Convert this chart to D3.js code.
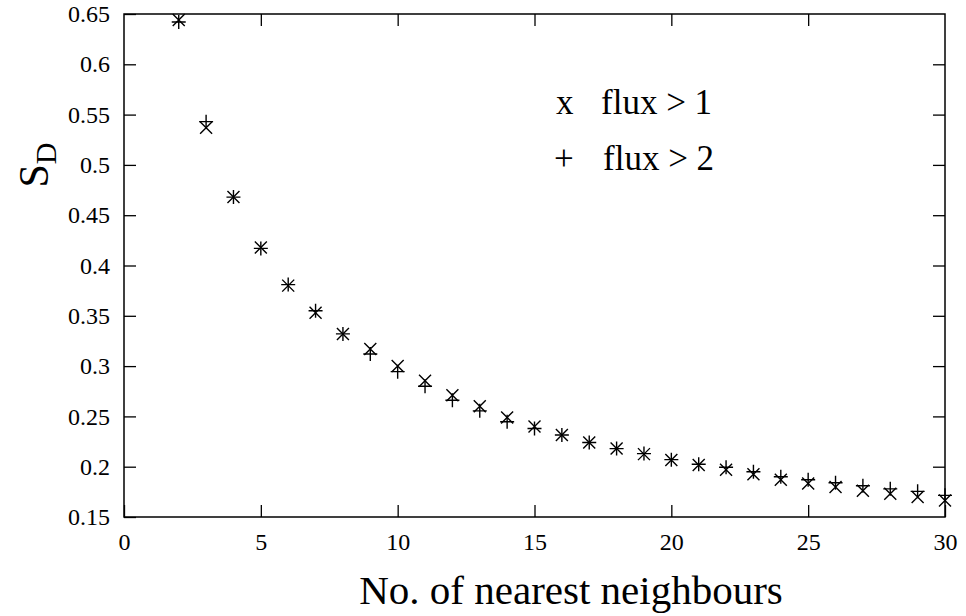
<!DOCTYPE html>
<html>
<head>
<meta charset="utf-8">
<script src="https://cdn.jsdelivr.net/npm/d3@7"></script>
<style>
  html, body { margin: 0; padding: 0; background: #fff; }
  svg text { font-family: "Liberation Serif", "Times New Roman", serif; fill: #000; }
</style>
</head>
<body>
<svg id="chart" width="966" height="616"></svg>
<script>
// Number of nearest neighbours
const neighbours = [2, 3, 4, 5, 6, 7, 8, 9, 10, 11, 12, 13, 14, 15, 16, 17, 18, 19, 20,
                    21, 22, 23, 24, 25, 26, 27, 28, 29, 30];
// S_D for sources with flux > 1 (drawn as x)
const sdFlux1 = [0.644, 0.537, 0.468, 0.418, 0.380, 0.353, 0.332, 0.317, 0.300, 0.2855,
                 0.271, 0.260, 0.249, 0.240, 0.2315, 0.224, 0.218, 0.2125, 0.2067, 0.2017,
                 0.197, 0.1925, 0.187, 0.1833, 0.1798, 0.176, 0.1732, 0.1698, 0.1665];
// S_D for sources with flux > 2 (drawn as +)
const sdFlux2 = [0.642, 0.543, 0.468, 0.417, 0.381, 0.355, 0.332, 0.312, 0.2945, 0.280,
                 0.266, 0.2555, 0.2447, 0.238, 0.2315, 0.224, 0.218, 0.213, 0.207, 0.2025,
                 0.1995, 0.195, 0.190, 0.187, 0.184, 0.181, 0.178, 0.1755, 0.1715];
const xTicks = [0, 5, 10, 15, 20, 25, 30];
const yTicks = [0.15, 0.2, 0.25, 0.3, 0.35, 0.4, 0.45, 0.5, 0.55, 0.6, 0.65];

const svg = d3.select("#chart");
const L = 124, R = 945, T = 14, B = 517;

const x = d3.scaleLinear().domain([0, 30]).range([L, R]);
const y = d3.scaleLinear().domain([0.15, 0.65]).range([B, T]);

const tickLen = 12;
const fmtY = d => String(+d.toFixed(2));

// Axes with inward ticks, mirrored on the top and right edges
const axisStyle = g => {
  g.select(".domain").remove();
  g.selectAll(".tick line").attr("stroke", "#000").attr("stroke-width", 1.3);
};

svg.append("g")
  .attr("transform", `translate(0,${B})`)
  .call(d3.axisBottom(x).tickValues(xTicks).tickSizeInner(-tickLen).tickPadding(16).tickFormat(d3.format("d")))
  .call(axisStyle)
  .selectAll("text").attr("font-size", 24).attr("font-family", "Liberation Serif");

svg.append("g")
  .attr("transform", `translate(0,${T})`)
  .call(d3.axisTop(x).tickValues(xTicks.slice(1, -1)).tickSizeInner(-tickLen).tickFormat(""))
  .call(axisStyle);

svg.append("g")
  .attr("transform", `translate(${L},0)`)
  .call(d3.axisLeft(y).tickValues(yTicks).tickSizeInner(-tickLen).tickPadding(14).tickFormat(fmtY))
  .call(axisStyle)
  .selectAll("text").attr("font-size", 24).attr("font-family", "Liberation Serif");

svg.append("g")
  .attr("transform", `translate(${R},0)`)
  .call(d3.axisRight(y).tickValues(yTicks.slice(1, -1)).tickSizeInner(-tickLen).tickFormat(""))
  .call(axisStyle);

// Frame
svg.append("rect")
  .attr("x", L).attr("y", T).attr("width", R - L).attr("height", B - T)
  .attr("fill", "none").attr("stroke", "#000").attr("stroke-width", 1.5);

// Markers
const crossPath = s => `M${-s},${-s}L${s},${s}M${-s},${s}L${s},${-s}`;
const plusPath = s => `M${-s},0L${s},0M0,${-s}L0,${s}`;

const marks = svg.append("g").attr("fill", "none").attr("stroke", "#000").attr("stroke-width", 1.4);

marks.selectAll("path.cross")
  .data(neighbours.map((n, i) => [n, sdFlux1[i]]))
  .join("path").attr("class", "cross")
  .attr("transform", d => `translate(${x(d[0])},${y(d[1])})`)
  .attr("d", crossPath(6));

marks.selectAll("path.plus")
  .data(neighbours.map((n, i) => [n, sdFlux2[i]]))
  .join("path").attr("class", "plus")
  .attr("transform", d => `translate(${x(d[0])},${y(d[1])})`)
  .attr("d", plusPath(7));

// Legend
const legend = svg.append("g").attr("font-size", 35);
legend.append("text").attr("x", 556).attr("y", 114).text("x");
legend.append("text").attr("x", 601).attr("y", 114).text("flux > 1");
legend.append("text").attr("x", 554).attr("y", 170).text("+");
legend.append("text").attr("x", 603).attr("y", 170).text("flux > 2");

// Axis titles
svg.append("text")
  .attr("x", 571).attr("y", 604)
  .attr("text-anchor", "middle").attr("font-size", 41)
  .text("No. of nearest neighbours");

const yt = svg.append("text")
  .attr("transform", "translate(48,165) rotate(-90)")
  .attr("text-anchor", "middle").attr("font-size", 42);
yt.append("tspan").text("S");
yt.append("tspan").attr("font-size", 30).attr("dy", 8).text("D");
</script>
</body>
</html>
